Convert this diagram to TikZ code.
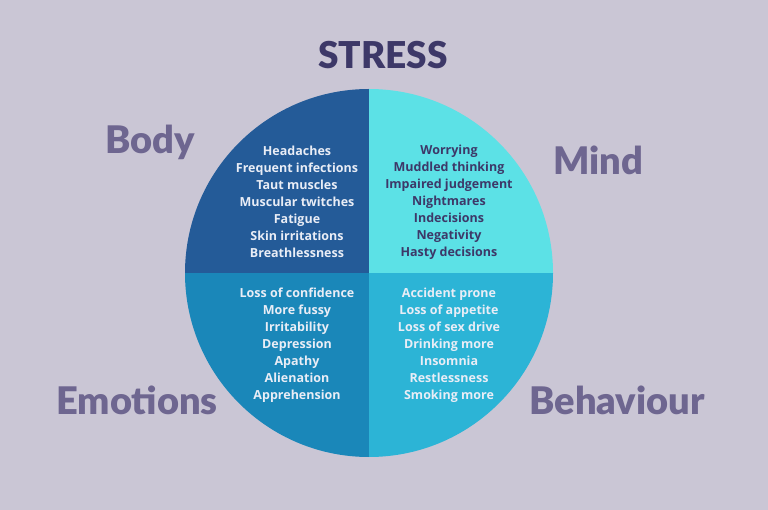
\documentclass[tikz,border=0pt]{standalone}
\usepackage{fontspec}
\setmainfont{Open Sans}
\newfontfamily\headfont{Lato Black}
\definecolor{bg}{HTML}{CAC6D5}
\definecolor{qtl}{HTML}{245B98}
\definecolor{qtr}{HTML}{5CE1E6}
\definecolor{qbl}{HTML}{1A87B9}
\definecolor{qbr}{HTML}{2CB4D6}
\definecolor{darkp}{HTML}{3D3868}
\definecolor{labp}{HTML}{6E6690}
\definecolor{itemw}{HTML}{E9EDF6}
\tikzset{
  items/.style={align=center, inner sep=0pt, font=\bfseries\fontsize{12.5}{17}\selectfont},
  biglabel/.style={inner sep=0pt, text=labp, font=\headfont\fontsize{38}{40}\selectfont}
}
\begin{document}
\begin{tikzpicture}[x=1pt,y=-1pt]
\fill[bg] (0,0) rectangle (768,510);
\useasboundingbox (0,0) rectangle (768,510);
\begin{scope}
\clip (369,273) circle[radius=184];
\fill[qtl] (150,60) rectangle (369,273);
\fill[qtr] (369,60) rectangle (590,273);
\fill[qbl] (150,273) rectangle (369,480);
\fill[qbr] (369,273) rectangle (590,480);
\end{scope}
\node[inner sep=0pt, text=darkp, font=\headfont\fontsize{37}{40}\selectfont] (stress) at (383,55) {STRESS};
\node[biglabel] (body) at (150,142) {Body};
\node[biglabel] (mind) at (598,160) {Mind};
\node[biglabel] (emo) at (137,400) {Emotions};
\node[biglabel] (beh) at (617,400) {Behaviour};
\node[items, text=itemw] (bodyitems) at (297,202) {Headaches\\Frequent infections\\Taut muscles\\Muscular twitches\\Fatigue\\Skin irritations\\Breathlessness};
\node[items, text=darkp] (minditems) at (449,202) {Worrying\\Muddled thinking\\Impaired judgement\\Nightmares\\Indecisions\\Negativity\\Hasty decisions};
\node[items, text=itemw] (emoitems) at (297,345) {Loss of confidence\\More fussy\\Irritability\\Depression\\Apathy\\Alienation\\Apprehension};
\node[items, text=itemw] (behitems) at (449,345) {Accident prone\\Loss of appetite\\Loss of sex drive\\Drinking more\\Insomnia\\Restlessness\\Smoking more};
\end{tikzpicture}
\end{document}
